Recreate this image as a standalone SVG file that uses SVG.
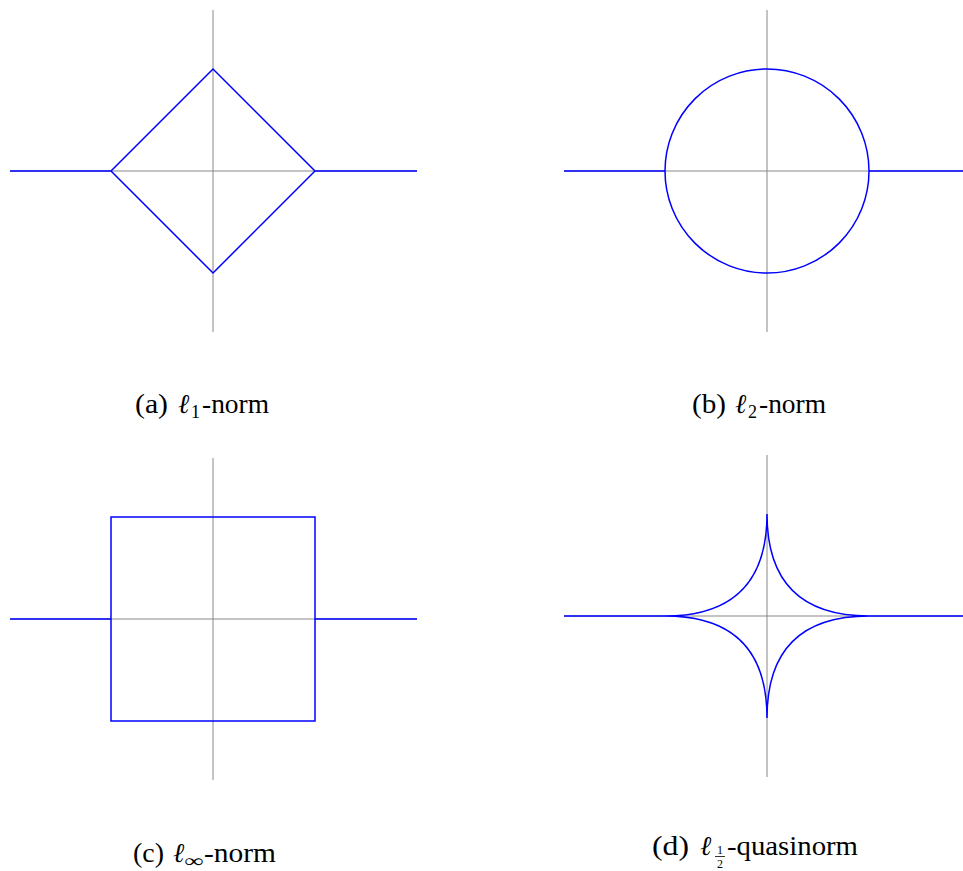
<svg xmlns="http://www.w3.org/2000/svg" width="963" height="871" viewBox="0 0 963 871">
<style>
.ax{stroke:#888888;stroke-width:1;fill:none}
.bl{stroke:#0000ff;stroke-width:1.5;fill:none;stroke-linejoin:miter}
.cap{font-size:27px}
.it{font-style:italic}
.sub{font-size:18px}
.fr{font-size:12px}
</style>
<rect x="0" y="0" width="963" height="871" fill="#ffffff"/>
<g id="panel-a" font-family="'Liberation Serif', 'Times New Roman', Tinos, 'DejaVu Serif', serif" fill="#000">
<line class="ax" x1="213" y1="10" x2="213" y2="332"/>
<line class="ax" x1="10" y1="171" x2="417" y2="171"/>
<path class="bl" d="M10 171H111L213 69L315 171H417M111 171L213 273L315 171"/>
<text class="cap" x="135" y="413" textLength="33" lengthAdjust="spacingAndGlyphs">(a)</text>
<text class="cap it" x="178" y="413">ℓ</text>
<text class="sub" x="191" y="418">1</text>
<text class="cap" x="202" y="413" textLength="67" lengthAdjust="spacingAndGlyphs">-norm</text>
</g>
<g id="panel-b" font-family="'Liberation Serif', 'Times New Roman', Tinos, 'DejaVu Serif', serif" fill="#000">
<line class="ax" x1="767" y1="10" x2="767" y2="332"/>
<line class="ax" x1="564" y1="171" x2="963" y2="171"/>
<path class="bl" d="M564 171H665M869 171H963"/>
<circle class="bl" cx="767" cy="171" r="102"/>
<text class="cap" x="692" y="413" textLength="34" lengthAdjust="spacingAndGlyphs">(b)</text>
<text class="cap it" x="735" y="413">ℓ</text>
<text class="sub" x="748" y="418">2</text>
<text class="cap" x="759" y="413" textLength="67" lengthAdjust="spacingAndGlyphs">-norm</text>
</g>
<g id="panel-c" font-family="'Liberation Serif', 'Times New Roman', Tinos, 'DejaVu Serif', serif" fill="#000">
<line class="ax" x1="213" y1="458" x2="213" y2="780"/>
<line class="ax" x1="10" y1="619" x2="417" y2="619"/>
<path class="bl" d="M10 619H111M315 619H417"/>
<rect class="bl" x="111" y="517" width="204" height="204"/>
<text class="cap" x="133" y="862" textLength="31" lengthAdjust="spacingAndGlyphs">(c)</text>
<text class="cap it" x="173" y="862">ℓ</text>
<text class="sub" x="184" y="867" textLength="19" lengthAdjust="spacingAndGlyphs">∞</text>
<text class="cap" x="204" y="862" textLength="72" lengthAdjust="spacingAndGlyphs">-norm</text>
</g>
<g id="panel-d" font-family="'Liberation Serif', 'Times New Roman', Tinos, 'DejaVu Serif', serif" fill="#000">
<line class="ax" x1="767" y1="455" x2="767" y2="777"/>
<line class="ax" x1="564" y1="616" x2="963" y2="616"/>
<path class="bl" d="M564 616H665M869 616H963M869 616Q767 616 767 514Q767 616 665 616Q767 616 767 718Q767 616 869 616Z"/>
<text class="cap" x="652" y="855" textLength="37" lengthAdjust="spacingAndGlyphs">(d)</text>
<text class="cap it" x="700" y="855">ℓ</text>
<text class="fr" x="720" y="853.5" text-anchor="middle">1</text>
<line x1="715" y1="856.5" x2="725" y2="856.5" stroke="#000" stroke-width="0.8"/>
<text class="fr" x="720" y="868" text-anchor="middle">2</text>
<text class="cap" x="727" y="855" textLength="131" lengthAdjust="spacingAndGlyphs">-quasinorm</text>
</g>
</svg>
